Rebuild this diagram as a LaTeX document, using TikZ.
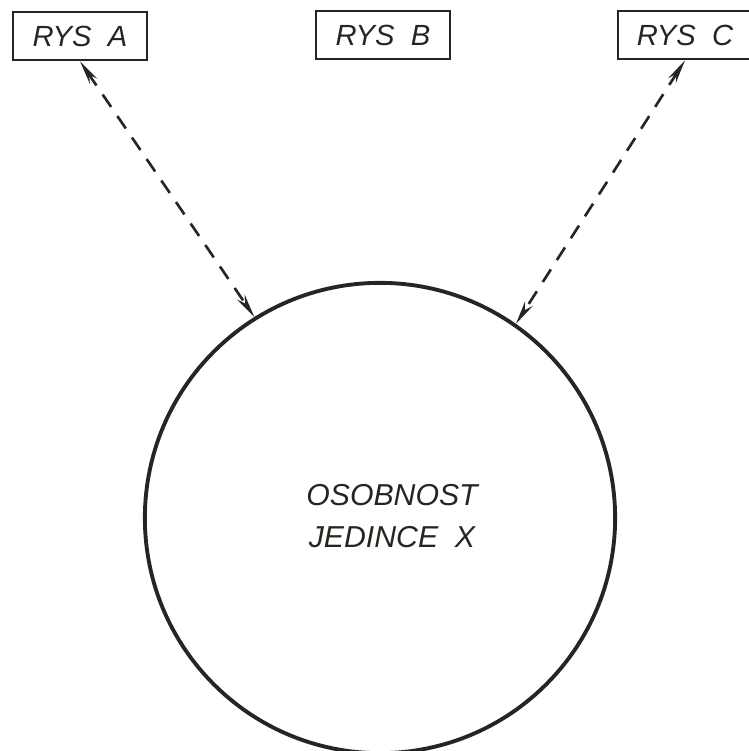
\documentclass[tikz,border=0pt]{standalone}
\usepackage{fontspec}
\setmainfont{Liberation Sans}
\usetikzlibrary{arrows.meta}

\definecolor{ink}{RGB}{38,38,32}

\begin{document}
\begin{tikzpicture}[x=0.01cm, y=-0.01cm,
  every node/.style={text=ink, font=\itshape\fontsize{8.3}{10}\selectfont},
  rysbox/.style={draw=ink, line width=0.75pt, minimum width=1.34cm, minimum height=0.48cm, inner sep=0pt},
  link/.style={draw=ink, line width=0.75pt, dash pattern=on 0.15cm off 0.11cm,
    {Stealth[length=0.24cm,width=0.09cm]}-{Stealth[length=0.24cm,width=0.09cm]}}]

\useasboundingbox (0,0) rectangle (749,751);

% Traits
\node[rysbox] (rysA) at (80,36) {RYS\ \ A};
\node[rysbox] (rysB) at (383,35) {RYS\ \ B};
\node[rysbox] (rysC) at (685,35) {RYS\ \ C};

% Personality
\node[draw=ink, line width=1.1pt, circle, minimum size=4.7cm, inner sep=0pt] (osob) at (380,518) {};
\node[align=center, font=\itshape\fontsize{8.6}{12}\selectfont] (osobtext) at (392,516)
  {OSOBNOST\\JEDINCE\ \ X};

% Arrows
\draw[link] (rysA.south) -- (osob.122);
\draw[link] (rysC.south) -- (osob.55);

\end{tikzpicture}
\end{document}
